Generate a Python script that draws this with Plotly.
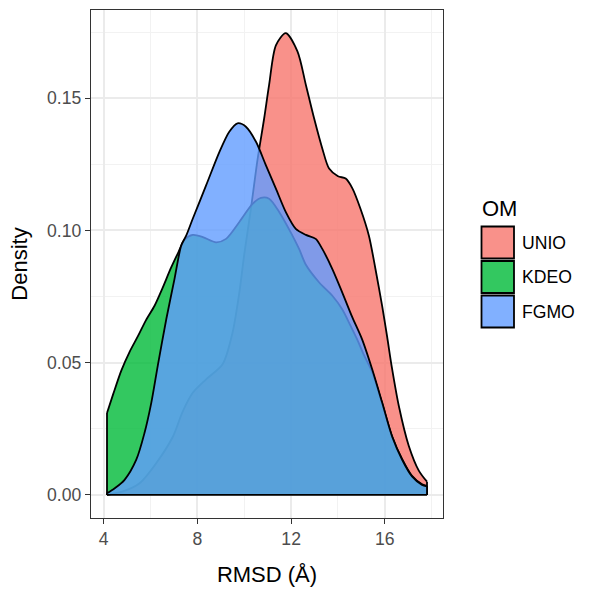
import plotly.graph_objects as go

# ---- data ----
groups = ["UNIO", "KDEO", "FGMO"]
colors = ["rgba(248,118,109,0.8)", "rgba(0,186,56,0.8)", "rgba(97,156,255,0.8)"]

unio_x = [4.14, 4.82, 5.53, 6.24, 6.95, 7.37, 7.8, 8.37, 9.08, 9.5, 9.79, 10.0, 10.28, 10.57,
          10.85, 11.06, 11.35, 11.77, 12.27, 12.63, 12.98, 13.33, 13.62, 14.0, 14.33, 14.61,
          14.96, 15.32, 15.6, 15.89, 16.1, 16.3, 16.6, 17.02, 17.45, 17.8]
unio_y = [0.0, 0.0013, 0.0044, 0.012, 0.022, 0.0315, 0.0386, 0.0437, 0.0495, 0.0614, 0.0766,
          0.091, 0.108, 0.127, 0.1424, 0.155, 0.170, 0.1746, 0.1677, 0.155, 0.1424, 0.131,
          0.1234, 0.1205, 0.1196, 0.116, 0.1082, 0.098, 0.0854, 0.0712, 0.0597, 0.0482,
          0.0335, 0.0186, 0.0092, 0.005]

kdeo_x = [4.14, 4.4, 4.75, 5.1, 5.46, 5.8, 6.17, 6.5, 6.88, 7.2, 7.45, 7.8, 8.23, 8.8, 9.22,
          9.79, 10.35, 10.71, 11.06, 11.49, 12.0, 12.34, 12.63, 13.19, 13.76, 14.18, 14.54,
          14.82, 15.1, 15.46, 15.89, 16.31, 16.74, 17.16, 17.59, 17.8]
kdeo_y = [0.031, 0.038, 0.047, 0.054, 0.060, 0.066, 0.0715, 0.078, 0.086, 0.092, 0.0965,
          0.0983, 0.0975, 0.0955, 0.0968, 0.1032, 0.110, 0.1123, 0.112, 0.107, 0.099, 0.093,
          0.087, 0.0804, 0.0753, 0.0702, 0.0639, 0.0588, 0.053, 0.0465, 0.0345, 0.0222,
          0.0135, 0.0072, 0.004, 0.0034]

fgmo_x = [4.14, 4.47, 4.89, 5.39, 5.74, 6.03, 6.31, 6.67, 7.02, 7.31, 7.52, 7.8, 8.37, 8.94,
          9.36, 9.71, 10.07, 10.5, 10.92, 11.35, 11.77, 12.2, 12.63, 13.05, 13.33, 13.76,
          14.18, 14.61, 15.03, 15.46, 15.89, 16.31, 16.74, 17.16, 17.59, 17.8]
fgmo_y = [0.0006, 0.0025, 0.0057, 0.0133, 0.0234, 0.0348, 0.049, 0.0664, 0.0816, 0.0943,
          0.098, 0.1044, 0.117, 0.1297, 0.1373, 0.1405, 0.1392, 0.1335, 0.1247, 0.1158,
          0.107, 0.1006, 0.0983, 0.0968, 0.093, 0.0854, 0.0766, 0.0672, 0.0588, 0.0475,
          0.0348, 0.0221, 0.0133, 0.007, 0.0038, 0.0032]

x_ticks = [4, 8, 12, 16]
y_ticks = [0.0, 0.05, 0.10, 0.15]

series = [(unio_x, unio_y), (kdeo_x, kdeo_y), (fgmo_x, fgmo_y)]

FONT = "Liberation Sans, Arial, Helvetica, sans-serif"
LW = 1.8

fig = go.Figure()
for name, col, (xs, ys) in zip(groups, colors, series):
    # filled density area (smooth upper curve, straight drop to the baseline)
    fig.add_trace(go.Scatter(
        x=xs, y=ys, mode="lines", fill="tozeroy", fillcolor=col,
        line=dict(color="black", width=LW, shape="spline", smoothing=0.8),
        name=name, showlegend=False, hoverinfo="skip"))
    # vertical end edges of the polygon outline
    fig.add_trace(go.Scatter(
        x=[xs[0], xs[0], None, xs[-1], xs[-1]],
        y=[0.0, ys[0], None, 0.0, ys[-1]],
        mode="lines", line=dict(color="black", width=LW),
        showlegend=False, hoverinfo="skip"))

xmin = min(min(s[0]) for s in series)
xmax = max(max(s[0]) for s in series)
ymax = max(max(s[1]) for s in series)
fig.add_trace(go.Scatter(x=[xmin, xmax], y=[0, 0], mode="lines",
                         line=dict(color="black", width=LW), showlegend=False,
                         hoverinfo="skip"))

xpad = (xmax - xmin) * 0.05
ypad = ymax * 0.05

L, R, T, B = 91, 157, 10, 82
W = 600 - L - R
H = 600 - T - B

axis_common = dict(
    showline=True, mirror=True, linecolor="#333333", linewidth=1.3,
    ticks="outside", ticklen=5, tickwidth=1.1, tickcolor="#333333",
    gridcolor="#EBEBEB", gridwidth=1.5, zeroline=False,
    tickfont=dict(family=FONT, size=17.6, color="#4D4D4D"),
)

fig.update_layout(
    width=600, height=600,
    margin=dict(l=L, r=R, t=T, b=B),
    paper_bgcolor="white", plot_bgcolor="white",
    showlegend=False,
    xaxis=dict(range=[xmin - xpad, xmax + xpad], tickvals=x_ticks,
               ticktext=[str(v) for v in x_ticks],
               minor=dict(dtick=2, tick0=0, showgrid=True, gridcolor="#F2F2F2",
                          gridwidth=0.8, ticks=""),
               title=dict(text="RMSD (Å)", font=dict(family=FONT, size=22, color="black"),
                          standoff=18),
               **axis_common),
    yaxis=dict(range=[-ypad, ymax + ypad], tickvals=y_ticks,
               ticktext=[f"{v:.2f}" for v in y_ticks],
               minor=dict(dtick=0.025, tick0=0, showgrid=True, gridcolor="#F2F2F2",
                          gridwidth=0.8, ticks=""),
               title=dict(text="Density", font=dict(family=FONT, size=22, color="black"),
                          standoff=13),
               **axis_common),
)

# ---- manual legend (ggplot-style) ----
def xp(px):
    return (px - L) / W

def yp(py):
    return (600 - B - py) / H

fig.add_annotation(x=xp(480), y=yp(208), xref="paper", yref="paper", text="OM",
                   showarrow=False, xanchor="left", yanchor="middle",
                   font=dict(family=FONT, size=22, color="black"))
key_top = 225.5
key_h = 34.5
for i, (name, col) in enumerate(zip(groups, colors)):
    y0 = key_top + i * key_h
    fig.add_shape(type="rect", xref="paper", yref="paper",
                  x0=xp(481.5), x1=xp(514), y0=yp(y0 + 1), y1=yp(y0 + key_h - 1.5),
                  fillcolor=col, line=dict(color="black", width=LW))
    fig.add_annotation(x=xp(520), y=yp(y0 + key_h / 2), xref="paper", yref="paper",
                       text=name, showarrow=False, xanchor="left", yanchor="middle",
                       font=dict(family=FONT, size=17.6, color="black"))

fig.write_html("out.html")
